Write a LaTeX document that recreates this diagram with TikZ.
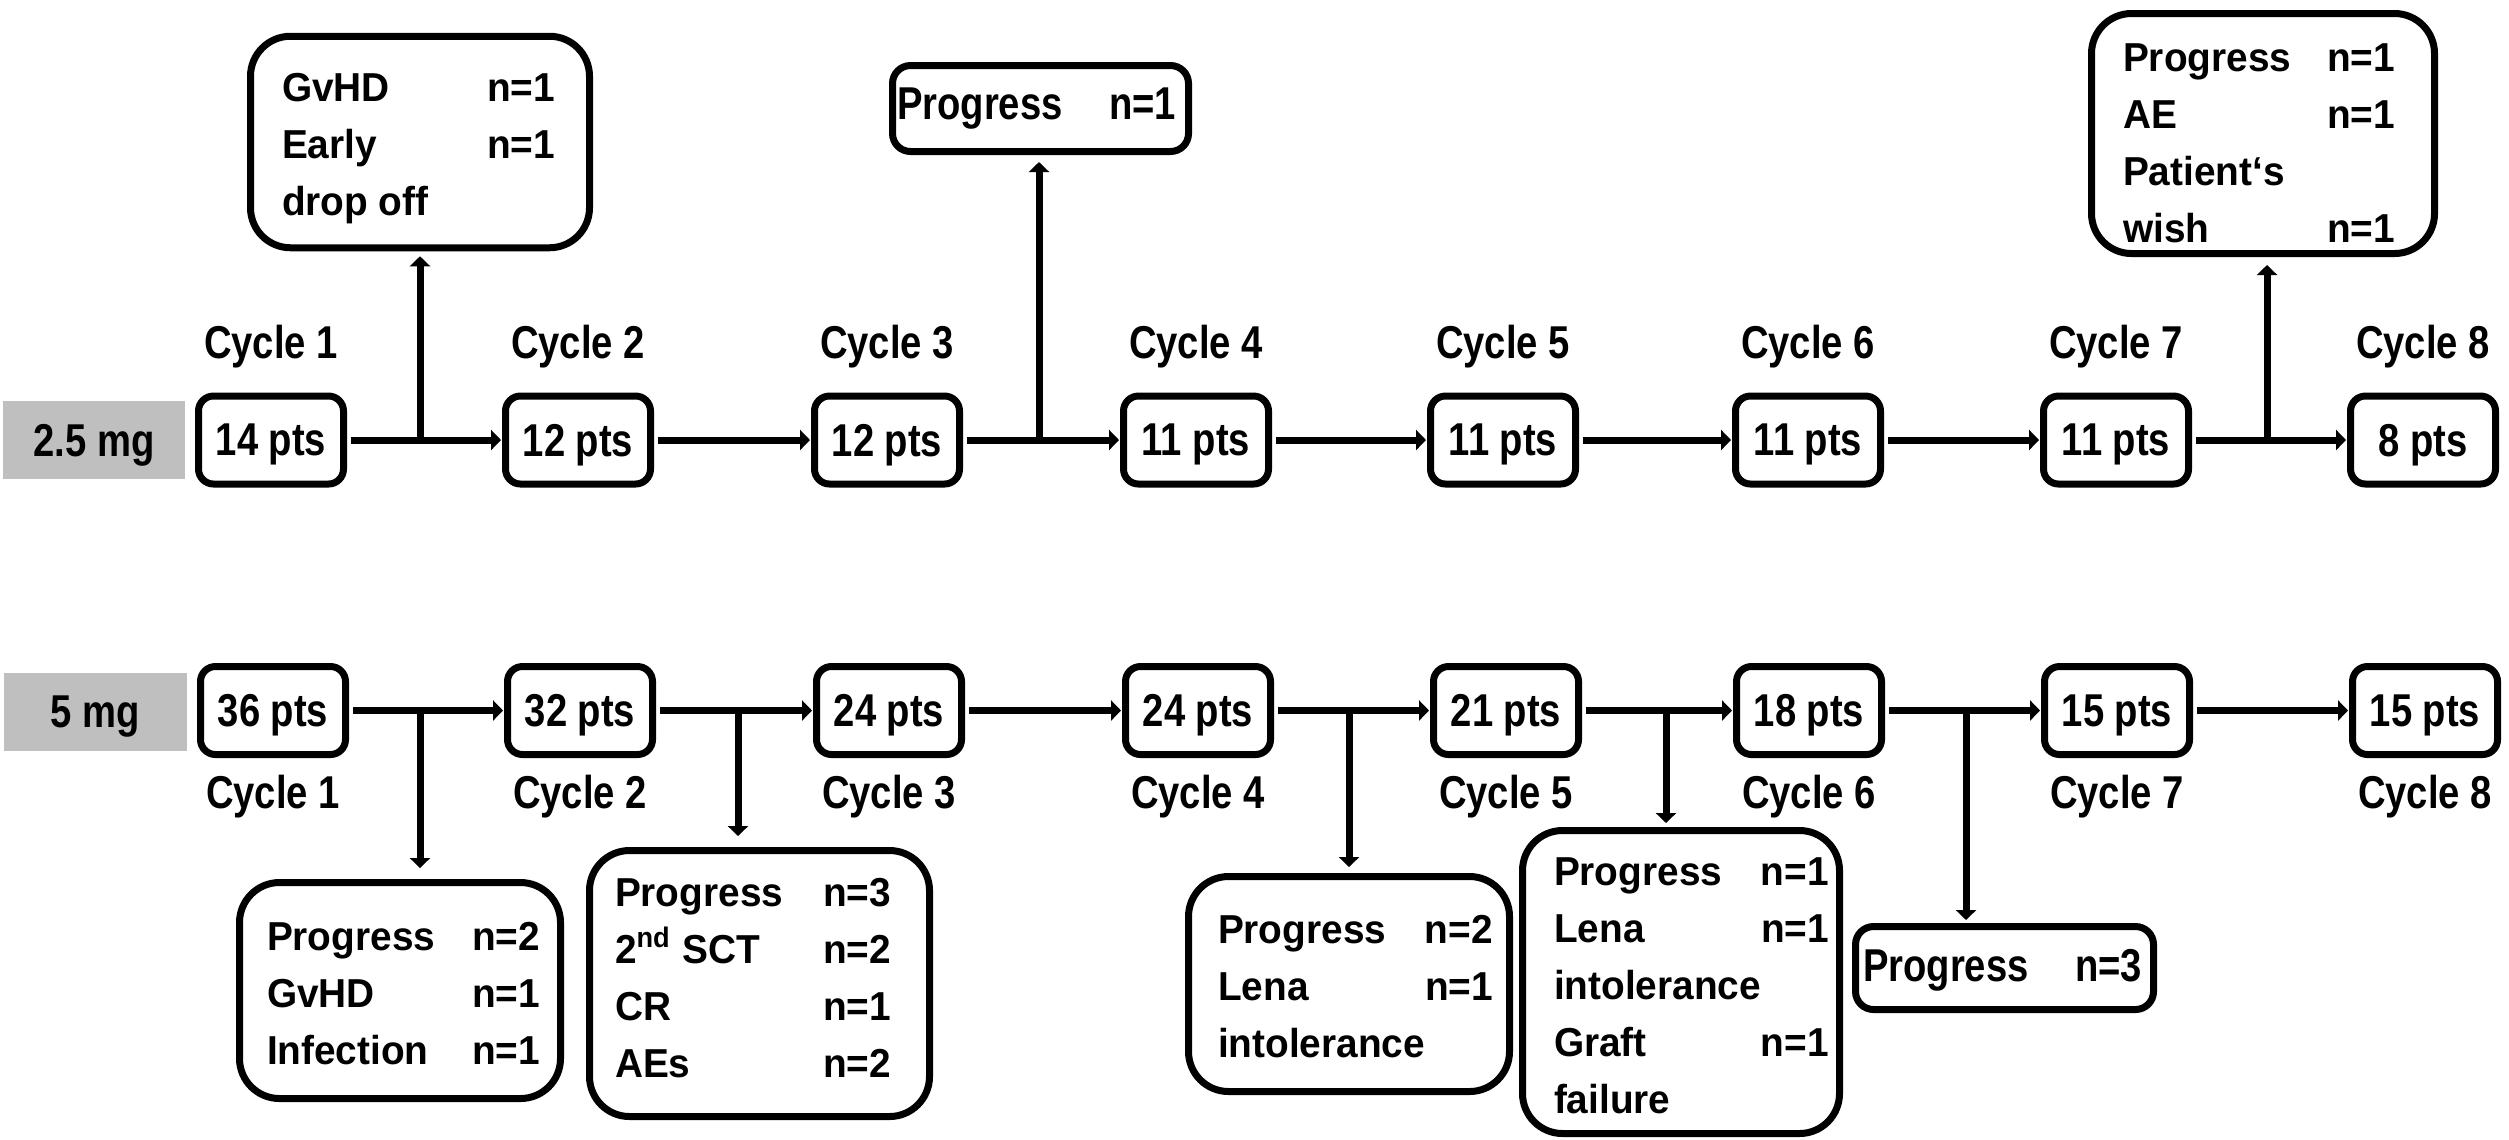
\documentclass[tikz,border=0pt]{standalone}
\usepackage{fontspec}
\setmainfont{Liberation Sans}
\newfontfamily\condfont{Liberation Sans Bold}[FakeStretch=0.83]
\newfontfamily\normfont{Liberation Sans Bold}[FakeStretch=0.96]
\usetikzlibrary{arrows.meta}
\definecolor{doseGray}{RGB}{191,191,191}
\newcommand\lab{\condfont\fontsize{13.1}{15}\selectfont}
\newcommand\txt{\normfont\fontsize{11.5}{16.22}\selectfont}
\newcommand\tworows[2]{\begin{tabular*}{#1}{@{}l@{\extracolsep{\fill}}r@{}}#2\end{tabular*}}
\newcommand\shiftxy[3]{\raisebox{#2}[\height][\depth]{\hspace*{#1}#3\hspace*{-#1}}}
\begin{document}
\begin{tikzpicture}[
  x=1cm,y=1cm,
  ptsbox/.style={draw, line width=0.07cm, rounded corners=0.15cm, minimum width=1.45cm, minimum height=0.88cm, inner sep=0pt, font=\lab, text depth=0pt},
  dosebox/.style={fill=doseGray, minimum width=1.82cm, minimum height=0.78cm, inner sep=0pt, font=\lab, text depth=0pt},
  cyclab/.style={anchor=base, inner sep=0pt, font=\lab},
  sidebox/.style={draw, line width=0.07cm, rounded corners=0.4cm, inner sep=0pt, font=\txt},
  onebox/.style={draw, line width=0.07cm, rounded corners=0.18cm, inner sep=0pt, font=\lab, text depth=0pt},
  flow/.style={line width=0.07cm, -{Triangle[length=0.1cm,width=0.2cm]}},
]
\useasboundingbox (0,0) rectangle (25.09,-11.39);

% dose labels
\node[dosebox] (d1) at (0.94,-4.40) {2.5 mg};
\node[dosebox] (d2) at (0.955,-7.115) {5 mg};

% top row
\node[ptsbox] (t1) at (2.71,-4.40) {14 pts};
\node[ptsbox] (t2) at (5.78,-4.40) {12 pts};
\node[ptsbox] (t3) at (8.87,-4.40) {12 pts};
\node[ptsbox] (t4) at (11.96,-4.40) {11 pts};
\node[ptsbox] (t5) at (15.03,-4.40) {11 pts};
\node[ptsbox] (t6) at (18.08,-4.40) {11 pts};
\node[ptsbox] (t7) at (21.16,-4.40) {11 pts};
\node[ptsbox] (t8) at (24.23,-4.40) {8 pts};

\node[cyclab] (ct1) at (2.71,-3.58) {Cycle 1};
\node[cyclab] (ct2) at (5.78,-3.58) {Cycle 2};
\node[cyclab] (ct3) at (8.87,-3.58) {Cycle 3};
\node[cyclab] (ct4) at (11.96,-3.58) {Cycle 4};
\node[cyclab] (ct5) at (15.03,-3.58) {Cycle 5};
\node[cyclab] (ct6) at (18.08,-3.58) {Cycle 6};
\node[cyclab] (ct7) at (21.16,-3.58) {Cycle 7};
\node[cyclab] (ct8) at (24.23,-3.58) {Cycle 8};

% bottom row
\node[ptsbox] (b1) at (2.73,-7.105) {36 pts};
\node[ptsbox] (b2) at (5.80,-7.105) {32 pts};
\node[ptsbox] (b3) at (8.89,-7.105) {24 pts};
\node[ptsbox] (b4) at (11.98,-7.105) {24 pts};
\node[ptsbox] (b5) at (15.06,-7.105) {21 pts};
\node[ptsbox] (b6) at (18.09,-7.105) {18 pts};
\node[ptsbox] (b7) at (21.17,-7.105) {15 pts};
\node[ptsbox] (b8) at (24.25,-7.105) {15 pts};

\node[cyclab] (cb1) at (2.73,-8.08) {Cycle 1};
\node[cyclab] (cb2) at (5.80,-8.08) {Cycle 2};
\node[cyclab] (cb3) at (8.89,-8.08) {Cycle 3};
\node[cyclab] (cb4) at (11.98,-8.08) {Cycle 4};
\node[cyclab] (cb5) at (15.06,-8.08) {Cycle 5};
\node[cyclab] (cb6) at (18.09,-8.08) {Cycle 6};
\node[cyclab] (cb7) at (21.17,-8.08) {Cycle 7};
\node[cyclab] (cb8) at (24.25,-8.08) {Cycle 8};

% side boxes
\node[sidebox, minimum width=3.39cm, minimum height=2.115cm] (sA) at (4.20,-1.42)
  {\shiftxy{-0.015cm}{-0.051cm}{\tworows{2.73cm}{GvHD & n=1\\ Early & n=1\\ drop off &}}};
\node[onebox, minimum width=2.96cm, minimum height=0.86cm] (sB) at (10.405,-1.085)
  {\shiftxy{-0.04cm}{0.045cm}{\hbox to 2.79cm{Progress\hfil n=1}}};
\node[sidebox, minimum width=3.43cm, minimum height=2.40cm] (sC) at (22.63,-1.335)
  {\shiftxy{-0.04cm}{-0.121cm}{\tworows{2.72cm}{Progress & n=1\\ AE & n=1\\ Patient‘s & \\ wish & n=1}}};
\node[sidebox, minimum width=3.21cm, minimum height=2.16cm] (sD) at (4.00,-9.905)
  {\shiftxy{0.035cm}{-0.056cm}{\tworows{2.73cm}{Progress & n=2\\ GvHD & n=1\\ Infection & n=1}}};
\node[sidebox, minimum width=3.40cm, minimum height=2.66cm] (sE) at (7.595,-9.835)
  {\shiftxy{-0.065cm}{0.034cm}{\tworows{2.76cm}{Progress & n=3\\ 2\textsuperscript{nd} SCT & n=2\\ CR & n=1\\ AEs & n=2}}};
\node[sidebox, minimum width=3.21cm, minimum height=2.15cm] (sF) at (13.49,-9.84)
  {\shiftxy{0.025cm}{-0.046cm}{\tworows{2.67cm}{Progress & n=2\\ Lena & n=1\\ intolerance &}}};
\node[sidebox, minimum width=3.17cm, minimum height=3.03cm] (sG) at (16.81,-9.82)
  {\shiftxy{0.055cm}{-0.056cm}{\tworows{2.65cm}{Progress & n=1\\ Lena & n=1\\ intolerance & \\ Graft & n=1\\ failure &}}};
\node[onebox, minimum width=2.98cm, minimum height=0.83cm] (sH) at (20.045,-9.68)
  {\shiftxy{-0.02cm}{0.025cm}{\hbox to 2.79cm{Progress\hfil n=3}}};

% horizontal flow
\foreach \a/\b in {t1/t2,t2/t3,t3/t4,t4/t5,t5/t6,t6/t7,t7/t8,b1/b2,b2/b3,b3/b4,b4/b5,b5/b6,b6/b7,b7/b8}
  \draw[flow, shorten <=0.04cm, shorten >=0.01cm] (\a.east) -- (\b.west);

% branch arrows
\coordinate (j1) at (4.20,-4.40);
\coordinate (j2) at (10.39,-4.40);
\coordinate (j3) at (22.67,-4.40);
\coordinate (k1) at (4.20,-7.105);
\coordinate (k2) at (7.38,-7.105);
\coordinate (k3) at (13.49,-7.105);
\coordinate (k4) at (16.66,-7.105);
\coordinate (k5) at (19.66,-7.105);
\draw[flow, shorten >=0.05cm] (j1) -- (j1 |- sA.south);
\draw[flow, shorten >=0.07cm] (j2) -- (j2 |- sB.south);
\draw[flow, shorten >=0.08cm] (j3) -- (j3 |- sC.south);
\draw[flow, shorten >=0.11cm] (k1) -- (k1 |- sD.north);
\draw[flow, shorten >=0.11cm] (k2) -- (k2 |- sE.north);
\draw[flow, shorten >=0.06cm] (k3) -- (k3 |- sF.north);
\draw[flow, shorten >=0.04cm] (k4) -- (k4 |- sG.north);
\draw[flow, shorten >=0.03cm] (k5) -- (k5 |- sH.north);
\end{tikzpicture}
\end{document}
